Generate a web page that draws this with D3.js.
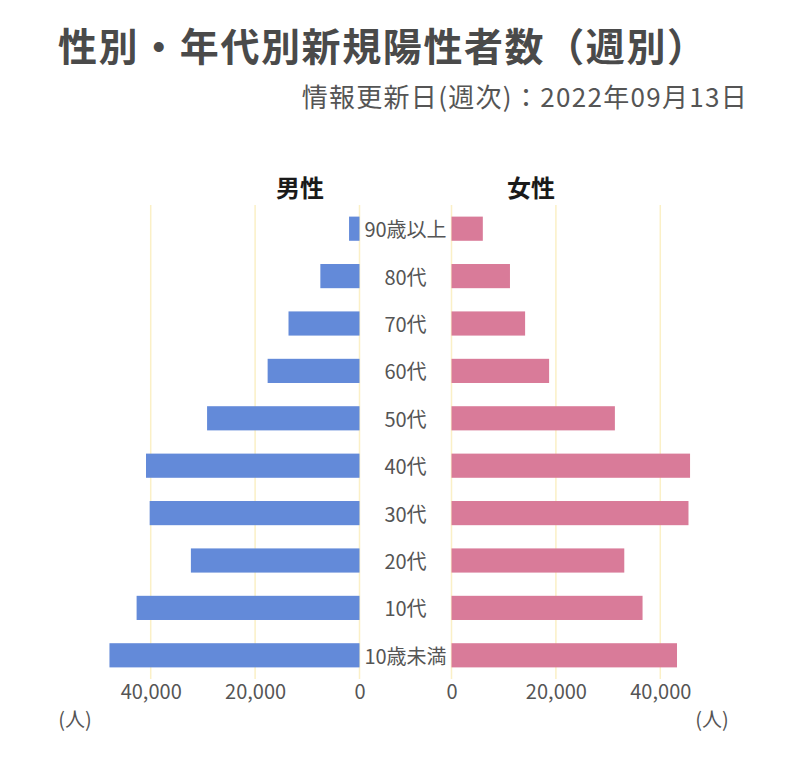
<!DOCTYPE html>
<html>
<head>
<meta charset="utf-8">
<script src="https://cdn.jsdelivr.net/npm/d3@7"></script>
<style>
  html, body { margin: 0; padding: 0; background: #fff; }
  svg { display: block; font-family: "Noto Sans CJK JP", "Noto Sans", sans-serif; }
</style>
</head>
<body>
<svg id="chart" width="801" height="760"></svg>
<script>
// ---- data ----
const categories = ["90歳以上", "80代", "70代", "60代", "50代", "40代", "30代", "20代", "10代", "10歳未満"];
const maleValues   = [2000, 7500, 13600, 17600, 29200, 40900, 40200, 32300, 42700, 47900];
const femaleValues = [6000, 11200, 14100, 18700, 31300, 45700, 45400, 33100, 36600, 43200];
const tickValues = [0, 20000, 40000];
const seriesNames = ["男性", "女性"];
const titleText = "性別・年代別新規陽性者数（週別）";
const subtitleText = "情報更新日(週次)：2022年09月13日";
const unitText = "(人)";

const svg = d3.select("#chart");
const BLUE = "#638ad9", PINK = "#d97b99", GRID = "#fbf0c6", TEXT = "#555";

const y = d3.scaleBand().domain(categories).range([205, 679]).paddingInner(0.49).paddingOuter(0.245);
const xL = d3.scaleLinear().domain([0, 50000]).range([359.5, 98.5]);
const xR = d3.scaleLinear().domain([0, 50000]).range([451.5, 712.5]);

// title
svg.append("text").attr("x", 58).attr("y", 44).attr("dominant-baseline", "central")
  .attr("font-size", 39).attr("font-weight", "bold").attr("letter-spacing", 1.6)
  .attr("fill", "#4a4a4a").text(titleText);
svg.append("text").attr("x", 748).attr("y", 95).attr("dominant-baseline", "central").attr("text-anchor", "end")
  .attr("font-size", 26).attr("letter-spacing", 1.3).attr("fill", TEXT).text(subtitleText);

// headers
svg.append("text").attr("x", 300).attr("y", 186).attr("dominant-baseline", "central").attr("text-anchor", "middle")
  .attr("font-size", 24).attr("font-weight", "bold").attr("fill", "#1a1a1a").text(seriesNames[0]);
svg.append("text").attr("x", 531).attr("y", 186).attr("dominant-baseline", "central").attr("text-anchor", "middle")
  .attr("font-size", 24).attr("font-weight", "bold").attr("fill", "#1a1a1a").text(seriesNames[1]);

const [y0, y1] = y.range();
// gridlines
[xL, xR].forEach(sc => {
  svg.append("g").selectAll("line").data(tickValues).join("line")
    .attr("x1", d => sc(d)).attr("x2", d => sc(d))
    .attr("y1", y0).attr("y2", y1)
    .attr("stroke", GRID).attr("stroke-width", 1.5);
});

// bars
svg.append("g").selectAll("rect").data(categories).join("rect")
  .attr("x", (d, i) => xL(maleValues[i])).attr("width", (d, i) => xL(0) - xL(maleValues[i]))
  .attr("y", d => y(d)).attr("height", y.bandwidth()).attr("fill", BLUE);
svg.append("g").selectAll("rect").data(categories).join("rect")
  .attr("x", xR(0)).attr("width", (d, i) => xR(femaleValues[i]) - xR(0))
  .attr("y", d => y(d)).attr("height", y.bandwidth()).attr("fill", PINK);

// category labels
svg.append("g").selectAll("text").data(categories).join("text")
  .attr("x", (xL(0) + xR(0)) / 2).attr("y", d => y(d) + y.bandwidth() / 2)
  .attr("dominant-baseline", "central").attr("text-anchor", "middle")
  .attr("font-size", 20).attr("fill", TEXT).text(d => d);

// axes
const fmt = d3.format(",");
[xL, xR].forEach(sc => {
  const g = svg.append("g").attr("transform", `translate(0,${y1})`)
    .call(d3.axisBottom(sc).tickValues(tickValues).tickFormat(fmt).tickSize(0));
  g.select(".domain").remove();
  g.selectAll("text").attr("dy", null).attr("y", 11).attr("dominant-baseline", "central")
    .attr("font-size", 20).attr("font-family", "'Noto Sans CJK JP', sans-serif").attr("fill", TEXT);
});

// units
svg.append("text").attr("x", 75).attr("y", 718).attr("dominant-baseline", "central").attr("text-anchor", "middle")
  .attr("font-size", 20).attr("fill", TEXT).text(unitText);
svg.append("text").attr("x", 712).attr("y", 718).attr("dominant-baseline", "central").attr("text-anchor", "middle")
  .attr("font-size", 20).attr("fill", TEXT).text(unitText);
</script>
</body>
</html>
